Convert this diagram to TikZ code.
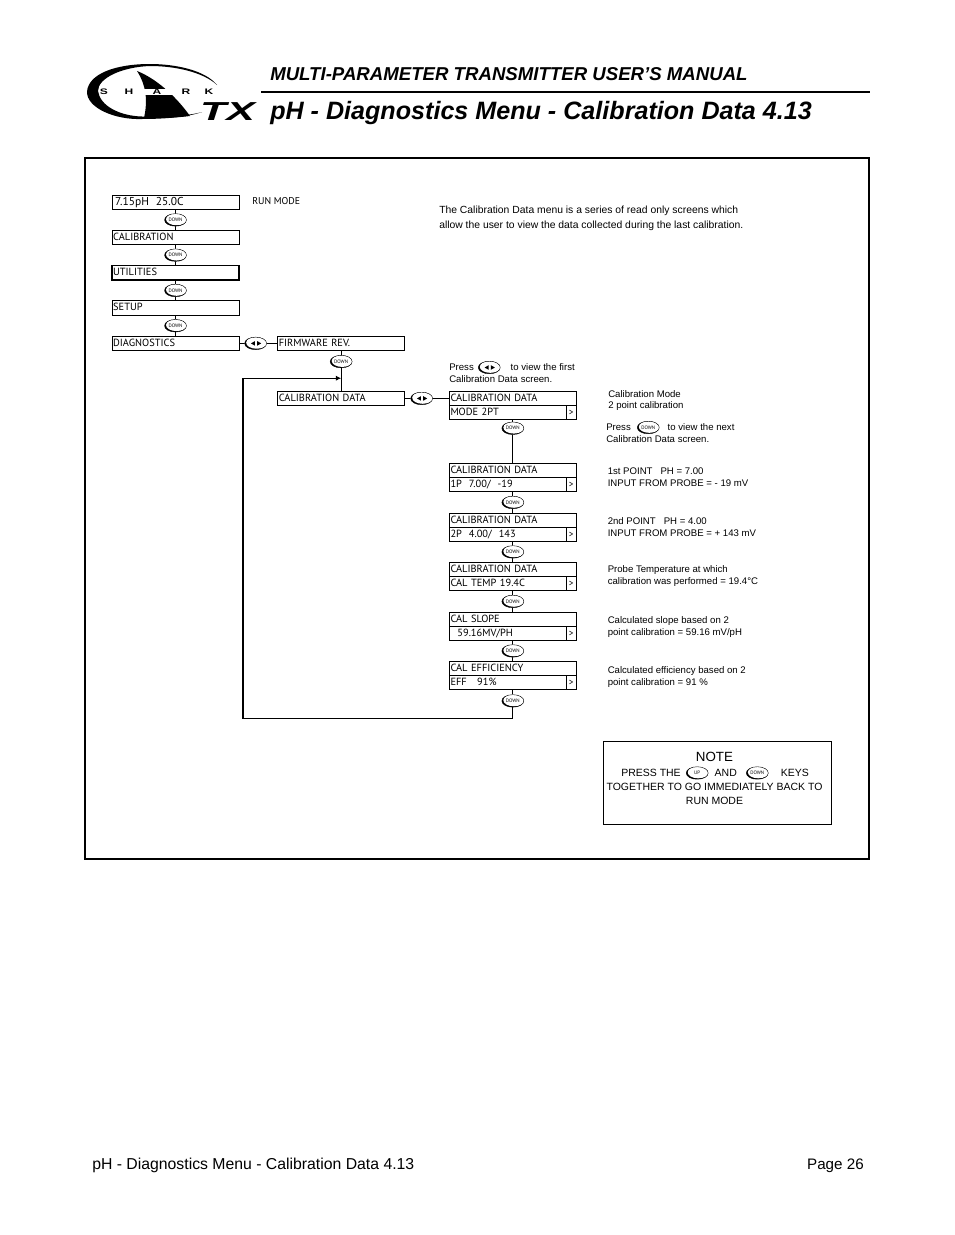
\documentclass[tikz,border=0pt]{standalone}
\usepackage{fontspec}
\setmainfont{Liberation Sans}
\newfontfamily\lcdfont{PT Sans}
\usepackage{xcolor}
\usetikzlibrary{arrows.meta, positioning, calc, shapes.geometric}
\tikzset{
  tmenu/.style={draw, line width=.6pt, outer sep=0pt, minimum width=95.25pt, text width=93.5pt, inner xsep=.8pt, inner ysep=0pt, minimum height=10.9pt, text height=5.6pt, text depth=1.4pt, align=left, font=\lcdfont\fontsize{7.8}{8}\selectfont},
  tscreen/.style={tmenu, minimum height=10.5pt},
  tmore/.style={draw, line width=.6pt, outer sep=0pt, minimum width=7.5pt, minimum height=10.5pt, inner sep=0pt, font=\lcdfont\fontsize{7}{8}\selectfont},
  tkeybase/.style={ellipse, draw, line width=.3pt, fill=white, minimum width=16.5pt, minimum height=9.4pt, inner sep=0pt},
  tkey/.style={tkeybase, font=\lcdfont\fontsize{3.7}{4}\selectfont,
    path picture={
      \fill[black] (path picture bounding box.south west) rectangle (path picture bounding box.north east);
      \fill[white] ([shift={(.8pt,.5pt)}]path picture bounding box.center) ellipse (7.9pt and 4.5pt);
    }},
  tkeylr/.style={tkeybase,
    path picture={
      \fill[black] (path picture bounding box.south west) rectangle (path picture bounding box.north east);
      \fill[white] ([shift={(.8pt,.5pt)}]path picture bounding box.center) ellipse (7.9pt and 4.5pt);
      \fill[black] ([xshift=-.5pt]path picture bounding box.center) -- ++(0,1.7pt) -- ++(-3pt,-1.7pt) -- ++(3pt,-1.7pt) -- cycle;
      \fill[black] ([xshift=1.2pt]path picture bounding box.center) -- ++(0,1.7pt) -- ++(3pt,-1.7pt) -- ++(-3pt,-1.7pt) -- cycle;
    }},
  tlink/.style={line width=.6pt},
  tback/.style={line width=.85pt, -{Latex[length=4pt, width=4pt]}},
  tlogo/.style={inner sep=0pt, xscale=1.5, transform shape, font=\bfseries\fontsize{6}{6}\selectfont},
  tnote/.style={anchor=west, inner sep=0pt, font=\fontsize{7.87}{10}\selectfont},
  tlabel/.style={anchor=west, inner sep=0pt, font=\fontsize{7.2}{9}\selectfont},
}
\begin{document}
\begin{tikzpicture}[x=.75pt, y=-.75pt, node distance=15.56pt]
    \useasboundingbox (0,0) rectangle (954,1235);
    % page head
    \fill (150,64) .. controls (175,64) and (205,70) .. (217,85) .. controls (203,72) and (175,66) .. (150,66) .. controls (122,67) and (98,78) .. (98,91) .. controls (100,106) and (120,116) .. (142,116.5) .. controls (165,117) and (188,116) .. (202,112) .. controls (188,117) and (165,119) .. (142,119) .. controls (115,120) and (87,108) .. (87,92) .. controls (88,74) and (115,64) .. (150,64) -- cycle;
    \fill (137,71) .. controls (155,78) and (175,95) .. (190,116) .. controls (175,118) and (160,118) .. (144,118) .. controls (148,100) and (146,85) .. (137,71) -- cycle;
    \fill[white] (140,89) rectangle (178,95);
    \node[tlogo] (logos) at (104,92) {S};
    \node[tlogo] (logoh) at (129,92) {H};
    \node[tlogo] (logoa) at (157,92) {A};
    \node[tlogo] (logor) at (186,92) {R};
    \node[tlogo] (logok) at (209,92) {K};
    \node[inner sep=0pt, xscale=1.65, transform shape, font=\bfseries\itshape\fontsize{19.5}{20}\selectfont] (logotx) at (227.5,111.5) {TX};
    \draw[line width=2.2pt] (261,92) -- (870,92);
    \node[anchor=base west, inner sep=0pt, font=\bfseries\itshape\fontsize{13.97}{18}\selectfont] (manual) at (270,80) {MULTI-PARAMETER TRANSMITTER USER’S MANUAL};
    \node[anchor=base west, inner sep=0pt, font=\bfseries\itshape\fontsize{18.84}{22}\selectfont] (title) at (270,119) {pH - Diagnostics Menu - Calibration Data 4.13};
    \draw[line width=1.4pt] (85,158) rectangle (869,859);
    % main menu
    \node[tmenu, anchor=north west] (runm) at (112,195) {\hspace{1.5pt}\fontsize{8.6}{9}\selectfont 7.15pH\ \ 25.0C};
    \node[tmenu, below=of runm] (calib) {CALIBRATION};
    \node[tmenu, line width=1pt, below=of calib] (util) {UTILITIES};
    \node[tmenu, below=of util] (setup) {SETUP};
    \node[tmenu, below=of setup] (diag) {DIAGNOSTICS};
    \node[tmenu, right=29pt of diag] (firm) {FIRMWARE REV.};
    \node[tmenu, below=30.4pt of firm] (cdata) {CALIBRATION DATA};
    \draw[tlink] (runm) -- node[tkey] (kd1) {DOWN} (calib);
    \draw[tlink] (calib) -- node[tkey] (kd2) {DOWN} (util);
    \draw[tlink] (util) -- node[tkey] (kd3) {DOWN} (setup);
    \draw[tlink] (setup) -- node[tkey] (kd4) {DOWN} (diag);
    \draw[tlink] (diag) -- node[tkeylr, pos=.43] (klr1) {} (firm);
    \draw[tlink] (firm) -- node[tkey, pos=.27] (kd5) {DOWN} (cdata);
    \node[anchor=west, inner sep=0pt, font=\lcdfont\fontsize{7.4}{9}\selectfont] (runlbl) at (252,201.5) {RUN MODE};
    % calibration screens
    \node[tscreen, right=33.5pt of cdata] (modet) {CALIBRATION DATA};
    \node[tscreen, below=0pt of modet] (modeb) {MODE 2PT};
    \node[tmore, anchor=east] (modem) at (modeb.east) {>};
    \node[tscreen, below=33pt of modeb] (onet) {CALIBRATION DATA};
    \node[tscreen, below=0pt of onet] (oneb) {1P\ \ 7.00/\ \ -19};
    \node[tmore, anchor=east] (onem) at (oneb.east) {>};
    \node[tscreen, below=16.5pt of oneb] (twot) {CALIBRATION DATA};
    \node[tscreen, below=0pt of twot] (twob) {2P\ \ 4.00/\ \ 143};
    \node[tmore, anchor=east] (twom) at (twob.east) {>};
    \node[tscreen, below=15.75pt of twob] (tempt) {CALIBRATION DATA};
    \node[tscreen, below=0pt of tempt] (tempb) {CAL TEMP 19.4C};
    \node[tmore, anchor=east] (tempm) at (tempb.east) {>};
    \node[tscreen, below=16.5pt of tempb] (slopet) {CAL SLOPE};
    \node[tscreen, below=0pt of slopet] (slopeb) {\ \ 59.16MV/PH};
    \node[tmore, anchor=east] (slopem) at (slopeb.east) {>};
    \node[tscreen, below=15.75pt of slopeb] (efft) {CAL EFFICIENCY};
    \node[tscreen, below=0pt of efft] (effb) {EFF\ \ \ 91\%};
    \node[tmore, anchor=east] (effm) at (effb.east) {>};
    \draw[tlink] (cdata) -- node[tkeylr, pos=.38] (klr2) {} (modet);
    \draw[tlink] (modeb) -- node[tkey, pos=.2] (kd6) {DOWN} (onet);
    \draw[tlink] (oneb) -- node[tkey] (kd7) {DOWN} (twot);
    \draw[tlink] (twob) -- node[tkey] (kd8) {DOWN} (tempt);
    \draw[tlink] (tempb) -- node[tkey] (kd9) {DOWN} (slopet);
    \draw[tlink] (slopeb) -- node[tkey] (kd10) {DOWN} (efft);
    \node[tkey, below=3.75pt of effb] (kd11) {DOWN};
    \draw[tlink] (effb) -- (kd11);
    \coordinate (backin) at ($(firm.south)!.68!(cdata.north)$);
    \coordinate (backleft) at (backin -| 243,0);
    \draw[tback] (kd11) -- ++(0,18) -| (backleft) -- (backin);
    % side texts
    \node[tlabel, font=\fontsize{7.77}{9}\selectfont] (about1) at (439,211) {The Calibration Data menu is a series of read only screens which};
    \node[tlabel, font=\fontsize{7.77}{9}\selectfont] (about2) at (439,226) {allow the user to view the data collected during the last calibration.};
    \node[tlabel] (press1) at (449,367.5) {Press};
    \node[tkeylr, right=3pt of press1] (klr3) {};
    \node[tlabel, right=7.5pt of klr3] (press1b) {to view the first};
    \node[tlabel] (press2) at (449,379.5) {Calibration Data screen.};
    \node[tlabel] (mode1) at (608,394.5) {Calibration Mode};
    \node[tlabel] (mode2) at (608,406.5) {2 point calibration};
    \node[tlabel] (press3) at (606,427.5) {Press};
    \node[tkey, right=4.5pt of press3] (kd12) {DOWN};
    \node[tlabel, right=6pt of kd12] (press3b) {to view the next};
    \node[tlabel] (press4) at (606,439.5) {Calibration Data screen.};
    \node[tlabel] (one1) at (607.5,471.5) {1st POINT\ \ \ PH = 7.00};
    \node[tlabel] (one2) at (607.5,483.5) {INPUT FROM PROBE = - 19 mV};
    \node[tlabel] (two1) at (607.5,521.5) {2nd POINT\ \ \ PH = 4.00};
    \node[tlabel] (two2) at (607.5,533.5) {INPUT FROM PROBE = + 143 mV};
    \node[tlabel] (temp1) at (607.5,570.5) {Probe Temperature at which};
    \node[tlabel] (temp2) at (607.5,582.5) {calibration was performed = 19.4°C};
    \node[tlabel] (slope1) at (607.5,621) {Calculated slope based on 2};
    \node[tlabel] (slope2) at (607.5,633) {point calibration = 59.16 mV/pH};
    \node[tlabel] (eff1) at (607.5,671) {Calculated efficiency based on 2};
    \node[tlabel] (eff2) at (607.5,683) {point calibration = 91 \%};
    % note
    \node[draw, line width=.6pt, outer sep=0pt, minimum width=171pt, minimum height=62.25pt, anchor=north west] (notebox) at (603,741) {};
    \node[inner sep=0pt, font=\fontsize{10}{12}\selectfont] (notehd) at (714.5,757) {NOTE};
    \node[tnote] (note1) at (621,773) {PRESS THE};
    \node[tkey, right=3.75pt of note1] (kup) {UP};
    \node[tnote, right=4.5pt of kup] (note1b) {AND};
    \node[tkey, right=6.75pt of note1b] (kd13) {DOWN};
    \node[tnote, right=9pt of kd13] (note1c) {KEYS};
    \node[inner sep=0pt, font=\fontsize{7.87}{10}\selectfont] (note2) at (714.5,787) {TOGETHER TO GO IMMEDIATELY BACK TO};
    \node[inner sep=0pt, font=\fontsize{7.87}{10}\selectfont] (note3) at (714.5,801) {RUN MODE};
    % page foot
    \node[anchor=base west, inner sep=0pt, font=\fontsize{11.84}{14}\selectfont] (footl) at (92,1169) {pH - Diagnostics Menu - Calibration Data 4.13};
    \node[anchor=base east, inner sep=0pt, font=\fontsize{11.4}{14}\selectfont] (footr) at (864,1169) {Page 26};
\end{tikzpicture}
\end{document}
